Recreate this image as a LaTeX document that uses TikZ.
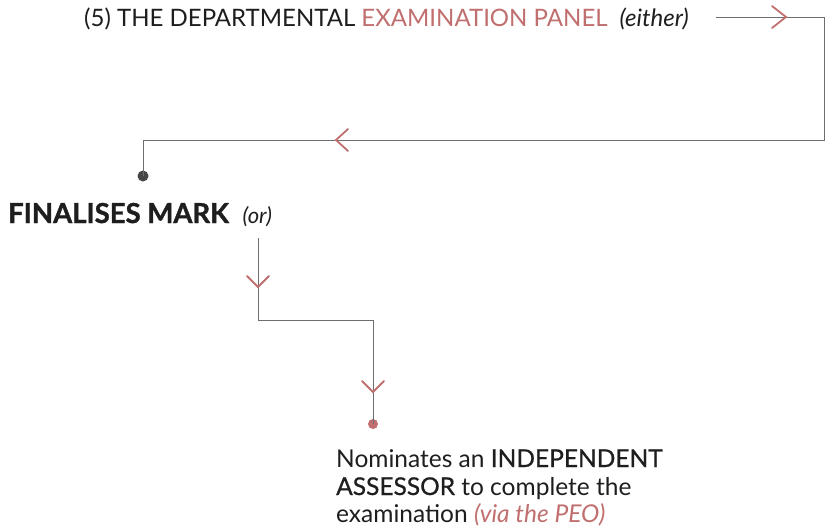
\documentclass[tikz,border=0pt]{standalone}
\usepackage{fontspec}
\setmainfont{Lato}
\newfontfamily\medfont[FakeBold=0.8]{Lato}
\newfontfamily\heavyfont[FakeBold=1.2]{Lato Bold}
\usetikzlibrary{positioning}
\definecolor{rosered}{RGB}{192,110,110}
\definecolor{inkgray}{RGB}{30,30,30}
\definecolor{wiregray}{RGB}{110,110,110}
\definecolor{dotgray}{RGB}{70,70,70}
\tikzset{
  txt/.style={anchor=base west, inner sep=0pt, text=inkgray},
  wire/.style={wiregray, line width=0.9pt},
  chev/.style={rosered, line width=1.8pt, line cap=round, line join=miter},
}

\begin{document}
\begin{tikzpicture}[x=1pt, y=-1pt]
\useasboundingbox (0,0) rectangle (825,527);
% texts
\node[txt, font=\fontsize{24}{28}\selectfont] (panel) at (84,27)
  {(5) THE DEPARTMENTAL \textcolor{rosered}{EXAMINATION PANEL}\enspace{\itshape(either)}};
\node[txt, font=\fontsize{27.5}{31}\selectfont] (mark) at (8,223)
  {{\heavyfont FINALISES MARK}\enspace{\fontsize{22}{26}\selectfont\itshape(or)}};
\node[txt, font=\fontsize{24.5}{28}\selectfont] (nom1) at (336,467) {Nominates an {\medfont INDEPENDENT}};
\node[txt, font=\fontsize{24.5}{28}\selectfont] (nom2) at (336,495) {{\medfont ASSESSOR} to complete the};
\node[txt, font=\fontsize{24.5}{28}\selectfont] (nom3) at (336,522) {examination \textcolor{rosered}{\itshape(via the PEO)}};
% connector points
\coordinate (start) at (716,17);
\coordinate (c1) at (824,17);
\coordinate (c2) at (824,140);
\coordinate (c3) at (143,140);
\coordinate (start2) at (258,238);
\coordinate (c4) at (258,320);
\coordinate (c5) at (373,320);
\node[circle, fill=dotgray, inner sep=0pt, minimum size=11pt] (dot1) at (143,176) {};
\node[circle, fill=rosered, inner sep=0pt, minimum size=10pt] (dot2) at (373,424) {};
\draw[wire] (start) -- (c1) -- (c2) -- (c3) -- (dot1.center);
\draw[wire] (start2) -- (c4) -- (c5) -- (dot2.center);
% chevrons
\draw[chev] (772,6) -- (786,17) -- (772,28);
\draw[chev] (348,129) -- (336,140) -- (348,151);
\foreach \x/\y in {258/287, 373/392}{
	\draw[chev] (\x-11,\y-11) -- (\x,\y) -- (\x+11,\y-11);
}
\end{tikzpicture}
\end{document}
